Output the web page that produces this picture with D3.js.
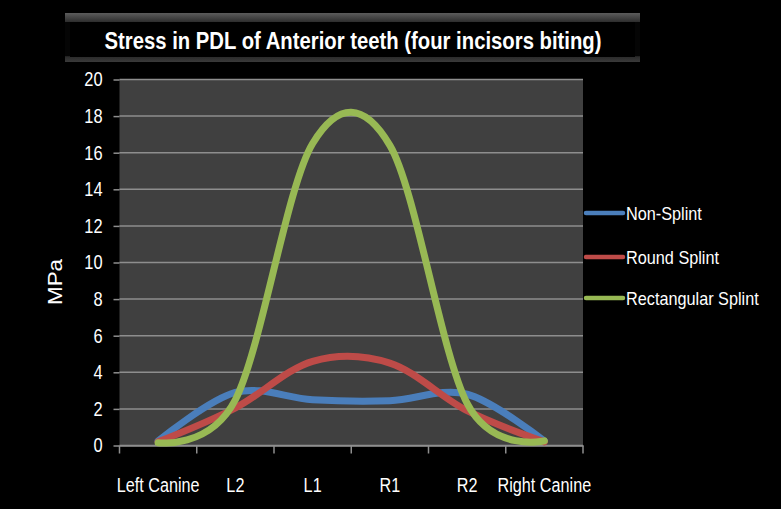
<!DOCTYPE html>
<html><head><meta charset="utf-8">
<script src="https://cdn.jsdelivr.net/npm/d3@7"></script>
<style>html,body{margin:0;padding:0;background:#000;}svg{display:block;}</style>
</head><body>
<script>
const categories = ["Left Canine","L2","L1","R1","R2","Right Canine"];
const nonSplint   = [0.25, 2.9, 2.5, 2.45, 2.8, 0.25];
const roundSplint = [0.2, 2.05, 4.6, 4.5, 1.9, 0.2];
const rectSplint  = [0.15, 2.5, 16.5, 16.4, 2.3, 0.25];
const seriesNames = ["Non-Splint","Round Splint","Rectangular Splint"];
const seriesColors = ["#4a7ebb","#be4b48","#98b954"];
const yTicks = [0,2,4,6,8,10,12,14,16,18,20];
const titleText = "Stress in PDL of Anterior teeth (four incisors biting)";
const yLabel = "MPa";

const W=781,H=509;
const FONT = "'Liberation Sans', Arial, sans-serif";
const svg = d3.select("body").append("svg").attr("width",W).attr("height",H);
svg.append("rect").attr("width",W).attr("height",H).attr("fill","#000");

function condense(sel,f){sel.each(function(){const l=this.getComputedTextLength();d3.select(this).attr("textLength",l*f).attr("lengthAdjust","spacingAndGlyphs");});}

// title box
const defs = svg.append("defs");
const g1 = defs.append("linearGradient").attr("id","tb").attr("x1",0).attr("y1",0).attr("x2",0).attr("y2",1);
g1.append("stop").attr("offset","0%").attr("stop-color","#5c5c5c");
g1.append("stop").attr("offset","18%").attr("stop-color","#2e2e2e");
g1.append("stop").attr("offset","19%").attr("stop-color","#050505");
g1.append("stop").attr("offset","88%").attr("stop-color","#050505");
g1.append("stop").attr("offset","89%").attr("stop-color","#2a2a2a");
g1.append("stop").attr("offset","100%").attr("stop-color","#3a3a3a");
svg.append("rect").attr("x",65).attr("y",13).attr("width",575).attr("height",49).attr("fill","url(#tb)");
svg.append("rect").attr("x",70).attr("y",22).attr("width",565).attr("height",35).attr("fill","#000");
svg.append("text").attr("x",353).attr("y",49).attr("text-anchor","middle")
  .attr("fill","#fff").attr("font-family",FONT).attr("font-weight","bold").attr("font-size",24)
  .attr("textLength",497).attr("lengthAdjust","spacingAndGlyphs").text(titleText);

// scales
const plot = {l:119.5, r:583, t:79.5, b:445.5};
const x = d3.scaleBand().domain(categories).range([plot.l,plot.r]).padding(0);
const y = d3.scaleLinear().domain([0,20]).range([plot.b,plot.t]);

svg.append("rect").attr("x",plot.l).attr("y",plot.t).attr("width",plot.r-plot.l).attr("height",plot.b-plot.t).attr("fill","#404040");

// gridlines
svg.append("g").selectAll("line").data(yTicks).join("line")
  .attr("x1",plot.l).attr("x2",plot.r).attr("y1",d=>y(d)).attr("y2",d=>y(d))
  .attr("stroke","#8e8e8e").attr("stroke-width",1.5);

// y axis
const ya = svg.append("g").attr("transform",`translate(${plot.l},0)`)
  .call(d3.axisLeft(y).tickValues(yTicks).tickSize(6).tickPadding(11).tickFormat(d3.format("d")));
ya.select(".domain").remove();
ya.selectAll("line").attr("stroke","#8e8e8e").attr("stroke-width",1.5);
ya.selectAll("text").attr("fill","#fff").attr("font-family",FONT).attr("font-size",20);
condense(ya.selectAll("text"),0.82);

// x axis
const xa = svg.append("g").attr("transform",`translate(0,${plot.b})`)
  .call(d3.axisBottom(x).tickSize(0).tickPadding(32));
xa.select(".domain").attr("stroke","#8e8e8e").attr("stroke-width",1.5);
xa.selectAll("text").attr("fill","#fff").attr("font-family",FONT).attr("font-size",20);
condense(xa.selectAll("text"),0.81);
const edges = categories.map(c=>x(c)).concat([x.range()[1]]);
xa.append("g").selectAll("line").data(edges).join("line")
  .attr("x1",d=>d).attr("x2",d=>d).attr("y1",0).attr("y2",8)
  .attr("stroke","#8e8e8e").attr("stroke-width",1.5);

// y label
svg.append("text").attr("transform","translate(62,282) rotate(-90)").attr("text-anchor","middle")
  .attr("fill","#fff").attr("font-family",FONT).attr("font-size",20).attr("textLength",46)
  .attr("lengthAdjust","spacingAndGlyphs").text(yLabel);

// lines
const allSeries = [nonSplint, roundSplint, rectSplint];
const line = d3.line().x((d,i)=>x(categories[i])+x.bandwidth()/2).y(d=>y(d)).curve(d3.curveCardinal.tension(0));
svg.append("g").selectAll("path").data(allSeries).join("path")
  .attr("d",d=>line(d)).attr("fill","none").attr("stroke",(d,i)=>seriesColors[i])
  .attr("stroke-width",7).attr("stroke-linecap","round").attr("stroke-linejoin","round");

// legend
const legY = [213,257,298];
const lg = svg.append("g").selectAll("g").data(seriesNames).join("g")
  .attr("transform",(d,i)=>`translate(586,${legY[i]})`);
lg.append("line").attr("x1",0).attr("x2",37).attr("y1",0).attr("y2",0)
  .attr("stroke",(d,i)=>seriesColors[i]).attr("stroke-width",4.5).attr("stroke-linecap","round");
lg.append("text").attr("x",40).attr("y",0).attr("dy","0.35em").attr("fill","#fff")
  .attr("font-family",FONT).attr("font-size",19).text(d=>d);
condense(lg.selectAll("text"),0.855);
</script>
</body></html>
